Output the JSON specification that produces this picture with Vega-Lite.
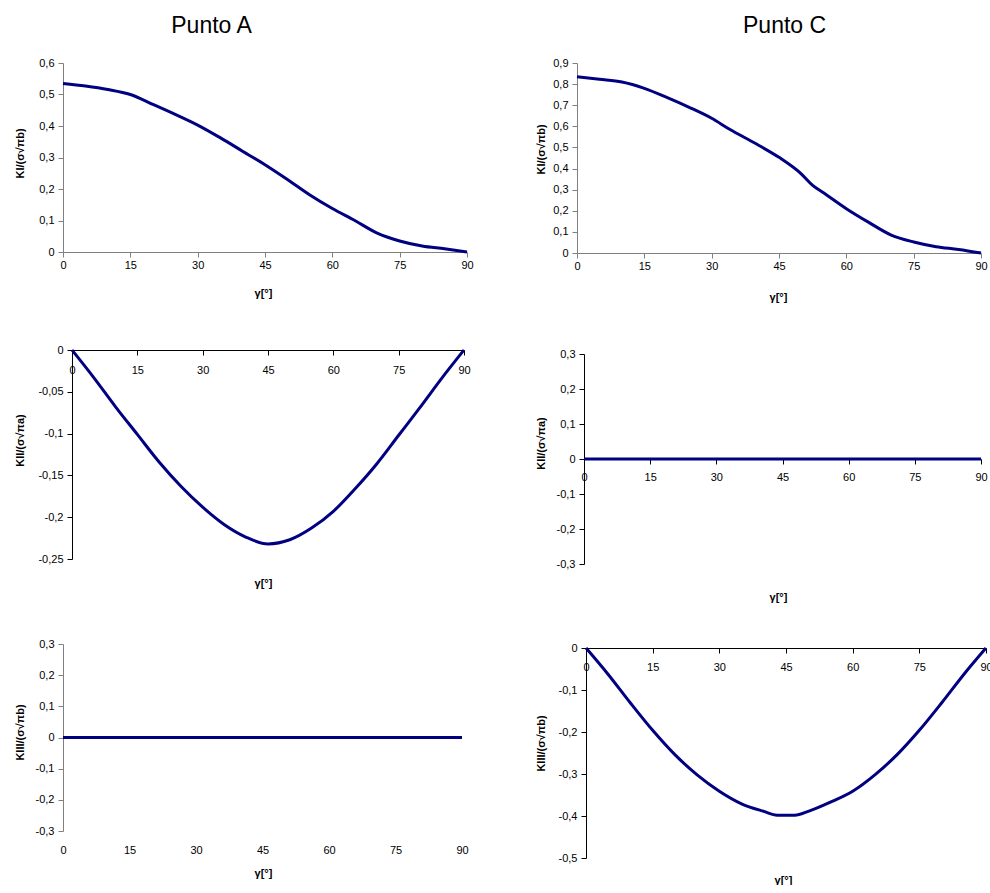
{
  "$schema": "https://vega.github.io/schema/vega-lite/v6.json",
  "padding": {"left": 14, "top": 15, "right": 0, "bottom": 0},
  "datasets": {
    "A_I": [
      {"g": 0, "k": 0.535}, {"g": 5, "k": 0.527}, {"g": 10, "k": 0.516}, {"g": 15, "k": 0.5},
      {"g": 20, "k": 0.469}, {"g": 25, "k": 0.437}, {"g": 30, "k": 0.403}, {"g": 35, "k": 0.363},
      {"g": 40, "k": 0.32}, {"g": 45, "k": 0.277}, {"g": 50, "k": 0.23}, {"g": 55, "k": 0.181},
      {"g": 60, "k": 0.138}, {"g": 65, "k": 0.1}, {"g": 70, "k": 0.06}, {"g": 75, "k": 0.035},
      {"g": 80, "k": 0.019}, {"g": 85, "k": 0.01}, {"g": 90, "k": 0}
    ],
    "C_I": [
      {"g": 0, "k": 0.835}, {"g": 5, "k": 0.823}, {"g": 10, "k": 0.81}, {"g": 15, "k": 0.78},
      {"g": 20, "k": 0.737}, {"g": 25, "k": 0.69}, {"g": 30, "k": 0.638}, {"g": 34, "k": 0.586},
      {"g": 40, "k": 0.516}, {"g": 45, "k": 0.453}, {"g": 50, "k": 0.374}, {"g": 52.5, "k": 0.32},
      {"g": 55, "k": 0.284}, {"g": 60, "k": 0.21}, {"g": 65, "k": 0.145}, {"g": 70, "k": 0.085},
      {"g": 75, "k": 0.052}, {"g": 80, "k": 0.03}, {"g": 85, "k": 0.017}, {"g": 90, "k": 0}
    ],
    "A_II": [
      {"g": 0, "k": 0}, {"g": 5, "k": -0.033}, {"g": 10, "k": -0.068}, {"g": 15, "k": -0.101},
      {"g": 20, "k": -0.134}, {"g": 25, "k": -0.163}, {"g": 30, "k": -0.188}, {"g": 35, "k": -0.209},
      {"g": 40, "k": -0.224}, {"g": 45, "k": -0.232}, {"g": 50, "k": -0.227}, {"g": 55, "k": -0.213},
      {"g": 60, "k": -0.193}, {"g": 65, "k": -0.166}, {"g": 70, "k": -0.136}, {"g": 75, "k": -0.102},
      {"g": 80, "k": -0.068}, {"g": 85, "k": -0.033}, {"g": 90, "k": 0}
    ],
    "C_II": [
      {"g": 0, "k": 0}, {"g": 15, "k": 0}, {"g": 30, "k": 0}, {"g": 45, "k": 0},
      {"g": 60, "k": 0}, {"g": 75, "k": 0}, {"g": 90, "k": 0}
    ],
    "A_III": [
      {"g": 0, "k": 0}, {"g": 15, "k": 0}, {"g": 30, "k": 0}, {"g": 45, "k": 0},
      {"g": 60, "k": 0}, {"g": 75, "k": 0}, {"g": 90, "k": 0}
    ],
    "C_III": [
      {"g": 0, "k": 0}, {"g": 5, "k": -0.063}, {"g": 10, "k": -0.131}, {"g": 15, "k": -0.196},
      {"g": 20, "k": -0.254}, {"g": 25, "k": -0.302}, {"g": 30, "k": -0.341}, {"g": 35, "k": -0.371},
      {"g": 40, "k": -0.389}, {"g": 43, "k": -0.398}, {"g": 47, "k": -0.398}, {"g": 50, "k": -0.389},
      {"g": 55, "k": -0.367}, {"g": 60, "k": -0.341}, {"g": 65, "k": -0.302}, {"g": 70, "k": -0.254},
      {"g": 75, "k": -0.196}, {"g": 80, "k": -0.131}, {"g": 85, "k": -0.063}, {"g": 90, "k": 0}
    ]
  },
  "config": {
    "font": "Liberation Sans",
    "view": {"stroke": null},
    "axis": {
      "grid": false, "labelFontSize": 11, "labelColor": "#000000",
      "titleFontSize": 11, "titleFontWeight": "bold", "titleColor": "#000000",
      "tickSize": 5, "labelFlush": false, "labelOverlap": false,
      "domainWidth": 1, "tickWidth": 1
    },
    "title": {"fontSize": 23, "fontWeight": "normal", "color": "#000000"}
  },
  "spacing": 61,
  "hconcat": [
    {
      "title": {"text": "Punto A", "anchor": "middle", "dx": -32, "offset": 19},
      "spacing": 46,
      "vconcat": [
        {
          "width": 404, "height": 189,
          "data": {"name": "A_I"},
          "mark": {"type": "line", "color": "#000080", "strokeWidth": 3, "interpolate": "monotone", "clip": false},
          "encoding": {
            "x": {"field": "g", "type": "quantitative", "scale": {"domain": [0, 90], "nice": false, "zero": false},
              "axis": {"values": [0, 15, 30, 45, 60, 75, 90], "title": "γ[°]", "titleX": 200, "titleY": 41, "titleAlign": "center", "titleBaseline": "middle", "labelPadding": 2, "domainColor": "#808080", "tickColor": "#808080"}},
            "y": {"field": "k", "type": "quantitative", "scale": {"domain": [0, 0.6], "nice": false},
              "axis": {"values": [0, 0.1, 0.2, 0.3, 0.4, 0.5, 0.6], "labelExpr": "replace(replace(format(datum.value, '~g'), '.', ','), '−', '-')", "title": "KI/(σ√πb)", "titleX": -43, "titleY": 90, "titleAngle": 270, "titleAlign": "center", "titleBaseline": "middle", "labelPadding": 4, "domainColor": "#808080", "tickColor": "#808080"}}
          }
        },
        {
          "spacing": 50,
          "vconcat": [
            {
              "width": 401, "height": 209,
              "data": {"name": "A_II"},
              "mark": {"type": "line", "color": "#000080", "strokeWidth": 3, "interpolate": "monotone", "clip": false},
              "encoding": {
                "x": {"field": "g", "type": "quantitative", "scale": {"domain": [0, 90], "nice": false, "zero": false, "range": [9, 401]},
                  "axis": {"values": [0, 15, 30, 45, 60, 75, 90], "offset": -209, "title": "γ[°]", "titleX": 200, "titleY": 233, "titleAlign": "center", "titleBaseline": "middle", "labelPadding": 9, "domainColor": "#000000", "tickColor": "#000000"}},
                "y": {"field": "k", "type": "quantitative", "scale": {"domain": [-0.25, 0], "nice": false},
                  "axis": {"values": [-0.25, -0.2, -0.15, -0.1, -0.05, 0], "offset": -9, "labelExpr": "replace(replace(format(datum.value, '~g'), '.', ','), '−', '-')", "title": "KII/(σ√πa)", "titleX": -52, "titleY": 90, "titleAngle": 270, "titleAlign": "center", "titleBaseline": "middle", "labelPadding": 4, "domainColor": "#000000", "tickColor": "#000000"}}
              }
            },
            {
              "width": 399, "height": 187,
              "data": {"name": "A_III"},
              "mark": {"type": "line", "color": "#000080", "strokeWidth": 3, "clip": false},
              "encoding": {
                "x": {"field": "g", "type": "quantitative", "scale": {"domain": [0, 90], "nice": false, "zero": false},
                  "axis": {"values": [0, 15, 30, 45, 60, 75, 90], "title": "γ[°]", "titleX": 200, "titleY": 42, "titleAlign": "center", "titleBaseline": "middle", "domain": false, "tickSize": 0, "labelPadding": 13}},
                "y": {"field": "k", "type": "quantitative", "scale": {"domain": [-0.3, 0.3], "nice": false},
                  "axis": {"values": [-0.3, -0.2, -0.1, 0, 0.1, 0.2, 0.3], "labelExpr": "replace(replace(format(datum.value, '~g'), '.', ','), '−', '-')", "title": "KIII/(σ√πb)", "titleX": -43, "titleY": 88, "titleAngle": 270, "titleAlign": "center", "titleBaseline": "middle", "labelPadding": 4, "domainColor": "#808080", "tickColor": "#808080"}}
              }
            }
          ]
        }
      ]
    },
    {
      "title": {"text": "Punto C", "anchor": "middle", "dx": 21, "offset": 19},
      "spacing": 46,
      "vconcat": [
        {
          "width": 404, "height": 190,
          "data": {"name": "C_I"},
          "mark": {"type": "line", "color": "#000080", "strokeWidth": 3, "interpolate": "monotone", "clip": false},
          "encoding": {
            "x": {"field": "g", "type": "quantitative", "scale": {"domain": [0, 90], "nice": false, "zero": false},
              "axis": {"values": [0, 15, 30, 45, 60, 75, 90], "title": "γ[°]", "titleX": 201, "titleY": 44, "titleAlign": "center", "titleBaseline": "middle", "labelPadding": 2, "domainColor": "#808080", "tickColor": "#808080"}},
            "y": {"field": "k", "type": "quantitative", "scale": {"domain": [0, 0.9], "nice": false},
              "axis": {"values": [0, 0.1, 0.2, 0.3, 0.4, 0.5, 0.6, 0.7, 0.8, 0.9], "labelExpr": "replace(replace(format(datum.value, '~g'), '.', ','), '−', '-')", "title": "KI/(σ√πb)", "titleX": -36, "titleY": 86, "titleAngle": 270, "titleAlign": "center", "titleBaseline": "middle", "labelPadding": 4, "domainColor": "#808080", "tickColor": "#808080"}}
          }
        },
        {
          "spacing": 40,
          "vconcat": [
            {
              "width": 404, "height": 210,
              "data": {"name": "C_II"},
              "mark": {"type": "line", "color": "#000080", "strokeWidth": 3, "clip": false},
              "encoding": {
                "x": {"field": "g", "type": "quantitative", "scale": {"domain": [0, 90], "nice": false, "zero": false, "range": [7, 404]},
                  "axis": {"values": [0, 15, 30, 45, 60, 75, 90], "offset": -105, "title": "γ[°]", "titleX": 201, "titleY": 138, "titleAlign": "center", "titleBaseline": "middle", "labelPadding": 7, "domainColor": "#000000", "tickColor": "#000000"}},
                "y": {"field": "k", "type": "quantitative", "scale": {"domain": [-0.3, 0.3], "nice": false},
                  "axis": {"values": [-0.3, -0.2, -0.1, 0, 0.1, 0.2, 0.3], "offset": -7, "labelExpr": "replace(replace(format(datum.value, '~g'), '.', ','), '−', '-')", "title": "KII/(σ√πa)", "titleX": -43, "titleY": 89, "titleAngle": 270, "titleAlign": "center", "titleBaseline": "middle", "labelPadding": 4, "domainColor": "#000000", "tickColor": "#000000"}}
              }
            },
            {
              "width": 409, "height": 210,
              "data": {"name": "C_III"},
              "mark": {"type": "line", "color": "#000080", "strokeWidth": 3, "interpolate": "monotone", "clip": false},
              "encoding": {
                "x": {"field": "g", "type": "quantitative", "scale": {"domain": [0, 90], "nice": false, "zero": false, "range": [9, 409]},
                  "axis": {"values": [0, 15, 30, 45, 60, 75, 90], "offset": -210, "title": "γ[°]", "titleX": 206, "titleY": 232, "titleAlign": "center", "titleBaseline": "middle", "labelPadding": 8, "domainColor": "#000000", "tickColor": "#000000"}},
                "y": {"field": "k", "type": "quantitative", "scale": {"domain": [-0.5, 0], "nice": false},
                  "axis": {"values": [-0.5, -0.4, -0.3, -0.2, -0.1, 0], "offset": -9, "labelExpr": "replace(replace(format(datum.value, '~g'), '.', ','), '−', '-')", "title": "KIII/(σ√πb)", "titleX": -45, "titleY": 95, "titleAngle": 270, "titleAlign": "center", "titleBaseline": "middle", "labelPadding": 4, "domainColor": "#000000", "tickColor": "#000000"}}
              }
            }
          ]
        }
      ]
    }
  ]
}
